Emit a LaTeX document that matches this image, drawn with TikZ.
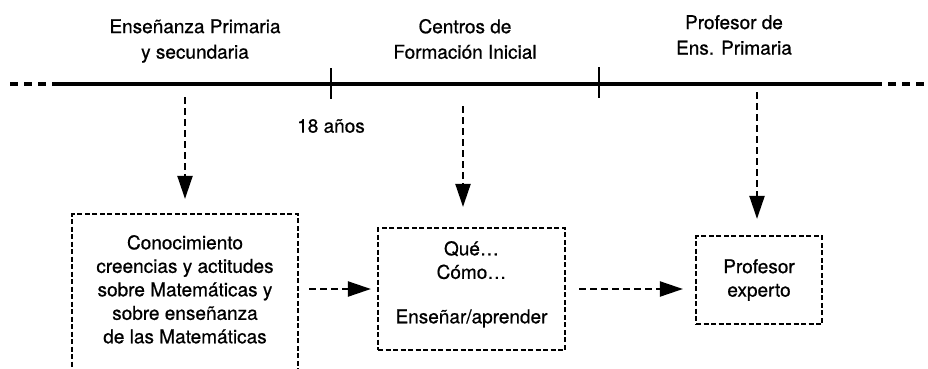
\documentclass[tikz,border=0pt]{standalone}
\usepackage{fontspec}
\setmainfont{TeX Gyre Heros}[FakeBold=0.7]
\usetikzlibrary{arrows.meta,positioning}
\tikzset{
    caja/.style={rectangle, draw, line width=2.2pt, dash pattern=on 5pt off 2.5pt, align=center, inner sep=0pt},
    etiqueta/.style={align=center, inner sep=0pt, font=\fontsize{19}{25.5}\selectfont},
    flecha/.style={-{Triangle[length=23pt,width=15pt]}, line width=2.2pt, dash pattern=on 7pt off 4pt},
    eje/.style={line width=3.4pt},
    eje punteado/.style={eje, dash pattern=on 8pt off 6pt},
    marca/.style={line width=2.2pt}
}
\begin{document}
\begin{tikzpicture}[x=1pt, y=-1pt,
    every node/.style={font=\fontsize{19}{23.5}\selectfont}]
    \useasboundingbox (0,0) rectangle (928,369);
    % linea del tiempo
    \coordinate (ini) at (10,84);
    \coordinate (a) at (55,84);
    \coordinate (b) at (874,84);
    \coordinate (fin) at (928,84);
    \draw[eje punteado] (ini) -- (a);
    \draw[eje] (a) -- (b);
    \draw[eje punteado] (b) -- (fin);
    \coordinate (m1) at (331,84);
    \coordinate (m2) at (599,84);
    \draw[marca] (m1) ++(0,-16) -- ++(0,31);
    \draw[marca] (m2) ++(0,-17) -- ++(0,31);
    % etapas
    \node[etiqueta] (primaria) at (195,41) {Enseñanza Primaria\\y secundaria};
    \node[etiqueta] (centros) at (465,39) {Centros de\\Formación Inicial};
    \node[etiqueta] (profesor) at (734,35) {Profesor de\\Ens. Primaria};
    \node[etiqueta] (edad) at (331,126) {18 años};
    % cajas
    \node[caja, minimum width=226pt, minimum height=158pt] (conoc) at (185,293)
        {Conocimiento\\creencias y actitudes\\sobre Matemáticas y\\sobre enseñanza\\de las Matemáticas\rule[-7.6pt]{0pt}{0pt}};
    \node[caja, minimum width=187pt, minimum height=122pt] (medio) at (471.5,289)
        {Qué\ldots\\Cómo\ldots\\[21pt]Enseñar/aprender\rule[-13.6pt]{0pt}{0pt}};
    \node[caja, minimum width=126pt, minimum height=88pt] (experto) at (759,280)
        {Profesor\\experto};
    % flechas
    \coordinate (s1) at (185,97);
    \coordinate (s2) at (463,106);
    \coordinate (s3) at (757,92);
    \draw[flecha, shorten >=14pt] (s1) -- (s1 |- conoc.north);
    \draw[flecha, shorten >=20pt] (s2) -- (s2 |- medio.north);
    \draw[flecha, shorten >=16pt] (s3) -- (s3 |- experto.north);
    \draw[flecha, shorten <=10pt, shorten >=6pt] (conoc.east |- medio.west) -- (medio.west);
    \draw[flecha, shorten <=13pt, shorten >=12pt] (medio.east) -- (medio.east -| experto.west);
\end{tikzpicture}
\end{document}
